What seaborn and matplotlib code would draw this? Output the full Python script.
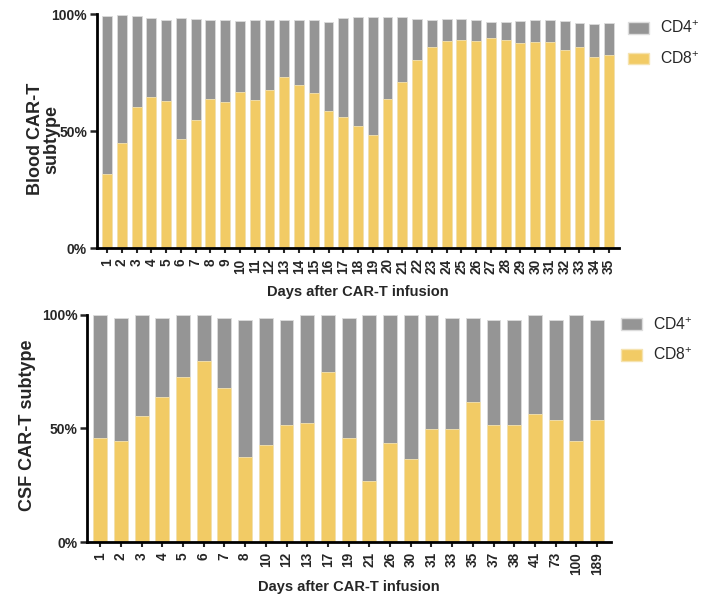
import matplotlib
matplotlib.use('Agg')
import matplotlib.pyplot as plt
from matplotlib.patches import Patch
import seaborn as sns
import pandas as pd

# Blood CAR-T subtype (% of CAR-T cells), days 1-35
blood_days = [str(d) for d in range(1, 36)]
blood_cd8 = [31.8, 44.9, 60.3, 64.4, 63.0, 46.6, 54.6, 63.6, 62.4, 66.9,
             63.4, 67.6, 73.1, 69.7, 66.4, 58.6, 56.2, 52.2, 48.4, 63.9,
             71.2, 80.5, 85.8, 88.5, 88.9, 88.6, 89.8, 88.9, 87.6, 88.2,
             87.9, 84.6, 85.8, 81.6, 82.4]
blood_cd4 = [67.3, 54.8, 38.8, 33.9, 34.3, 51.8, 43.3, 33.7, 34.9, 30.0,
             34.0, 30.0, 24.2, 27.7, 31.0, 38.1, 42.0, 46.4, 50.3, 34.7,
             27.4, 17.4, 11.6, 9.4, 9.0, 8.7, 6.7, 7.7, 9.3, 9.2,
             9.7, 12.6, 10.2, 14.0, 13.9]

# CSF CAR-T subtype
csf_days = ['1', '2', '3', '4', '5', '6', '7', '8', '10', '12', '13', '17', '19',
            '21', '26', '30', '31', '33', '35', '37', '38', '41', '73', '100', '189']
csf_cd8 = [45.7, 44.7, 55.7, 63.8, 72.8, 79.9, 67.8, 37.6, 42.8, 51.6, 52.6, 74.9, 45.7,
           26.8, 43.7, 36.6, 49.7, 49.7, 61.8, 51.6, 51.6, 56.6, 53.7, 44.6, 53.7]
csf_cd4 = [54.3, 54.1, 44.3, 35.0, 27.2, 20.1, 31.0, 60.2, 56.0, 46.2, 47.4, 25.1, 53.1,
           73.2, 56.3, 63.4, 50.3, 49.1, 37.0, 46.2, 46.2, 43.4, 44.1, 55.4, 44.1]

GREY = '#959595'
YELLOW = '#F2CB65'

sns.set_style('ticks')
plt.rcParams['font.family'] = ['Liberation Sans', 'DejaVu Sans']
plt.rcParams['mathtext.fontset'] = 'custom'
plt.rcParams['mathtext.rm'] = 'Liberation Sans'

fig = plt.figure(figsize=(7.02, 5.97), dpi=100)
ax1 = fig.add_axes([0.1378, 0.584, 0.744, 0.3925])
ax2 = fig.add_axes([0.1244, 0.0921, 0.7456, 0.3803])


def stacked(ax, days, cd8, cd4, ylabel, label_xy, xlim, legend_anchor, xpad):
    df = pd.DataFrame({'day': days, 'cd8': cd8, 'cd4': cd4})
    df['total'] = df['cd8'] + df['cd4']
    sns.barplot(data=df, x='day', y='total', color=GREY, saturation=1, width=0.67,
                edgecolor='#dcdcdc', linewidth=0.6, ax=ax)
    sns.barplot(data=df, x='day', y='cd8', color=YELLOW, saturation=1, width=0.67,
                edgecolor='#f5e3b0', linewidth=0.6, ax=ax)
    ax.set_ylim(0, 100)
    ax.set_xlim(*xlim)
    ax.set_yticks([0, 50, 100])
    ax.set_yticklabels(['0%', '50%', '100%'], fontsize=10, fontweight='bold')
    ax.tick_params(axis='x', rotation=90, labelsize=9.8, length=3.8, width=1.5, pad=3.5)
    ax.tick_params(axis='y', length=5, width=1.8, pad=2)
    for t in ax.get_xticklabels():
        t.set_fontweight('bold')
    for s in ['left', 'bottom']:
        ax.spines[s].set_linewidth(2)
        ax.spines[s].set_color('black')
    sns.despine(ax=ax)
    ax.set_xlabel('Days after CAR-T infusion', fontsize=10.5, fontweight='bold', labelpad=xpad)
    ax.set_ylabel(ylabel, fontsize=13, fontweight='bold', linespacing=1.0)
    ax.yaxis.set_label_coords(*label_xy)
    handles = [Patch(facecolor=GREY, edgecolor='#dcdcdc', label='CD4$^{\\mathregular{+}}$'),
               Patch(facecolor=YELLOW, edgecolor='#f5e3b0', label='CD8$^{\\mathregular{+}}$')]
    ax.legend(handles=handles, loc='upper left', bbox_to_anchor=legend_anchor,
              frameon=False, fontsize=11.3, handlelength=1.35, handleheight=0.75,
              handletextpad=0.7, labelspacing=0.9, borderaxespad=0, borderpad=0)


stacked(ax1, blood_days, blood_cd8, blood_cd4, 'Blood CAR-T\nsubtype',
        (-0.069, 0.466), (-0.7, 34.68), (1.017, 0.975), 8)
stacked(ax2, csf_days, csf_cd8, csf_cd4, 'CSF CAR-T subtype',
        (-0.098, 0.515), (-0.62, 24.66), (1.0197, 0.995), 4)

plt.savefig('out.png', dpi=100)
